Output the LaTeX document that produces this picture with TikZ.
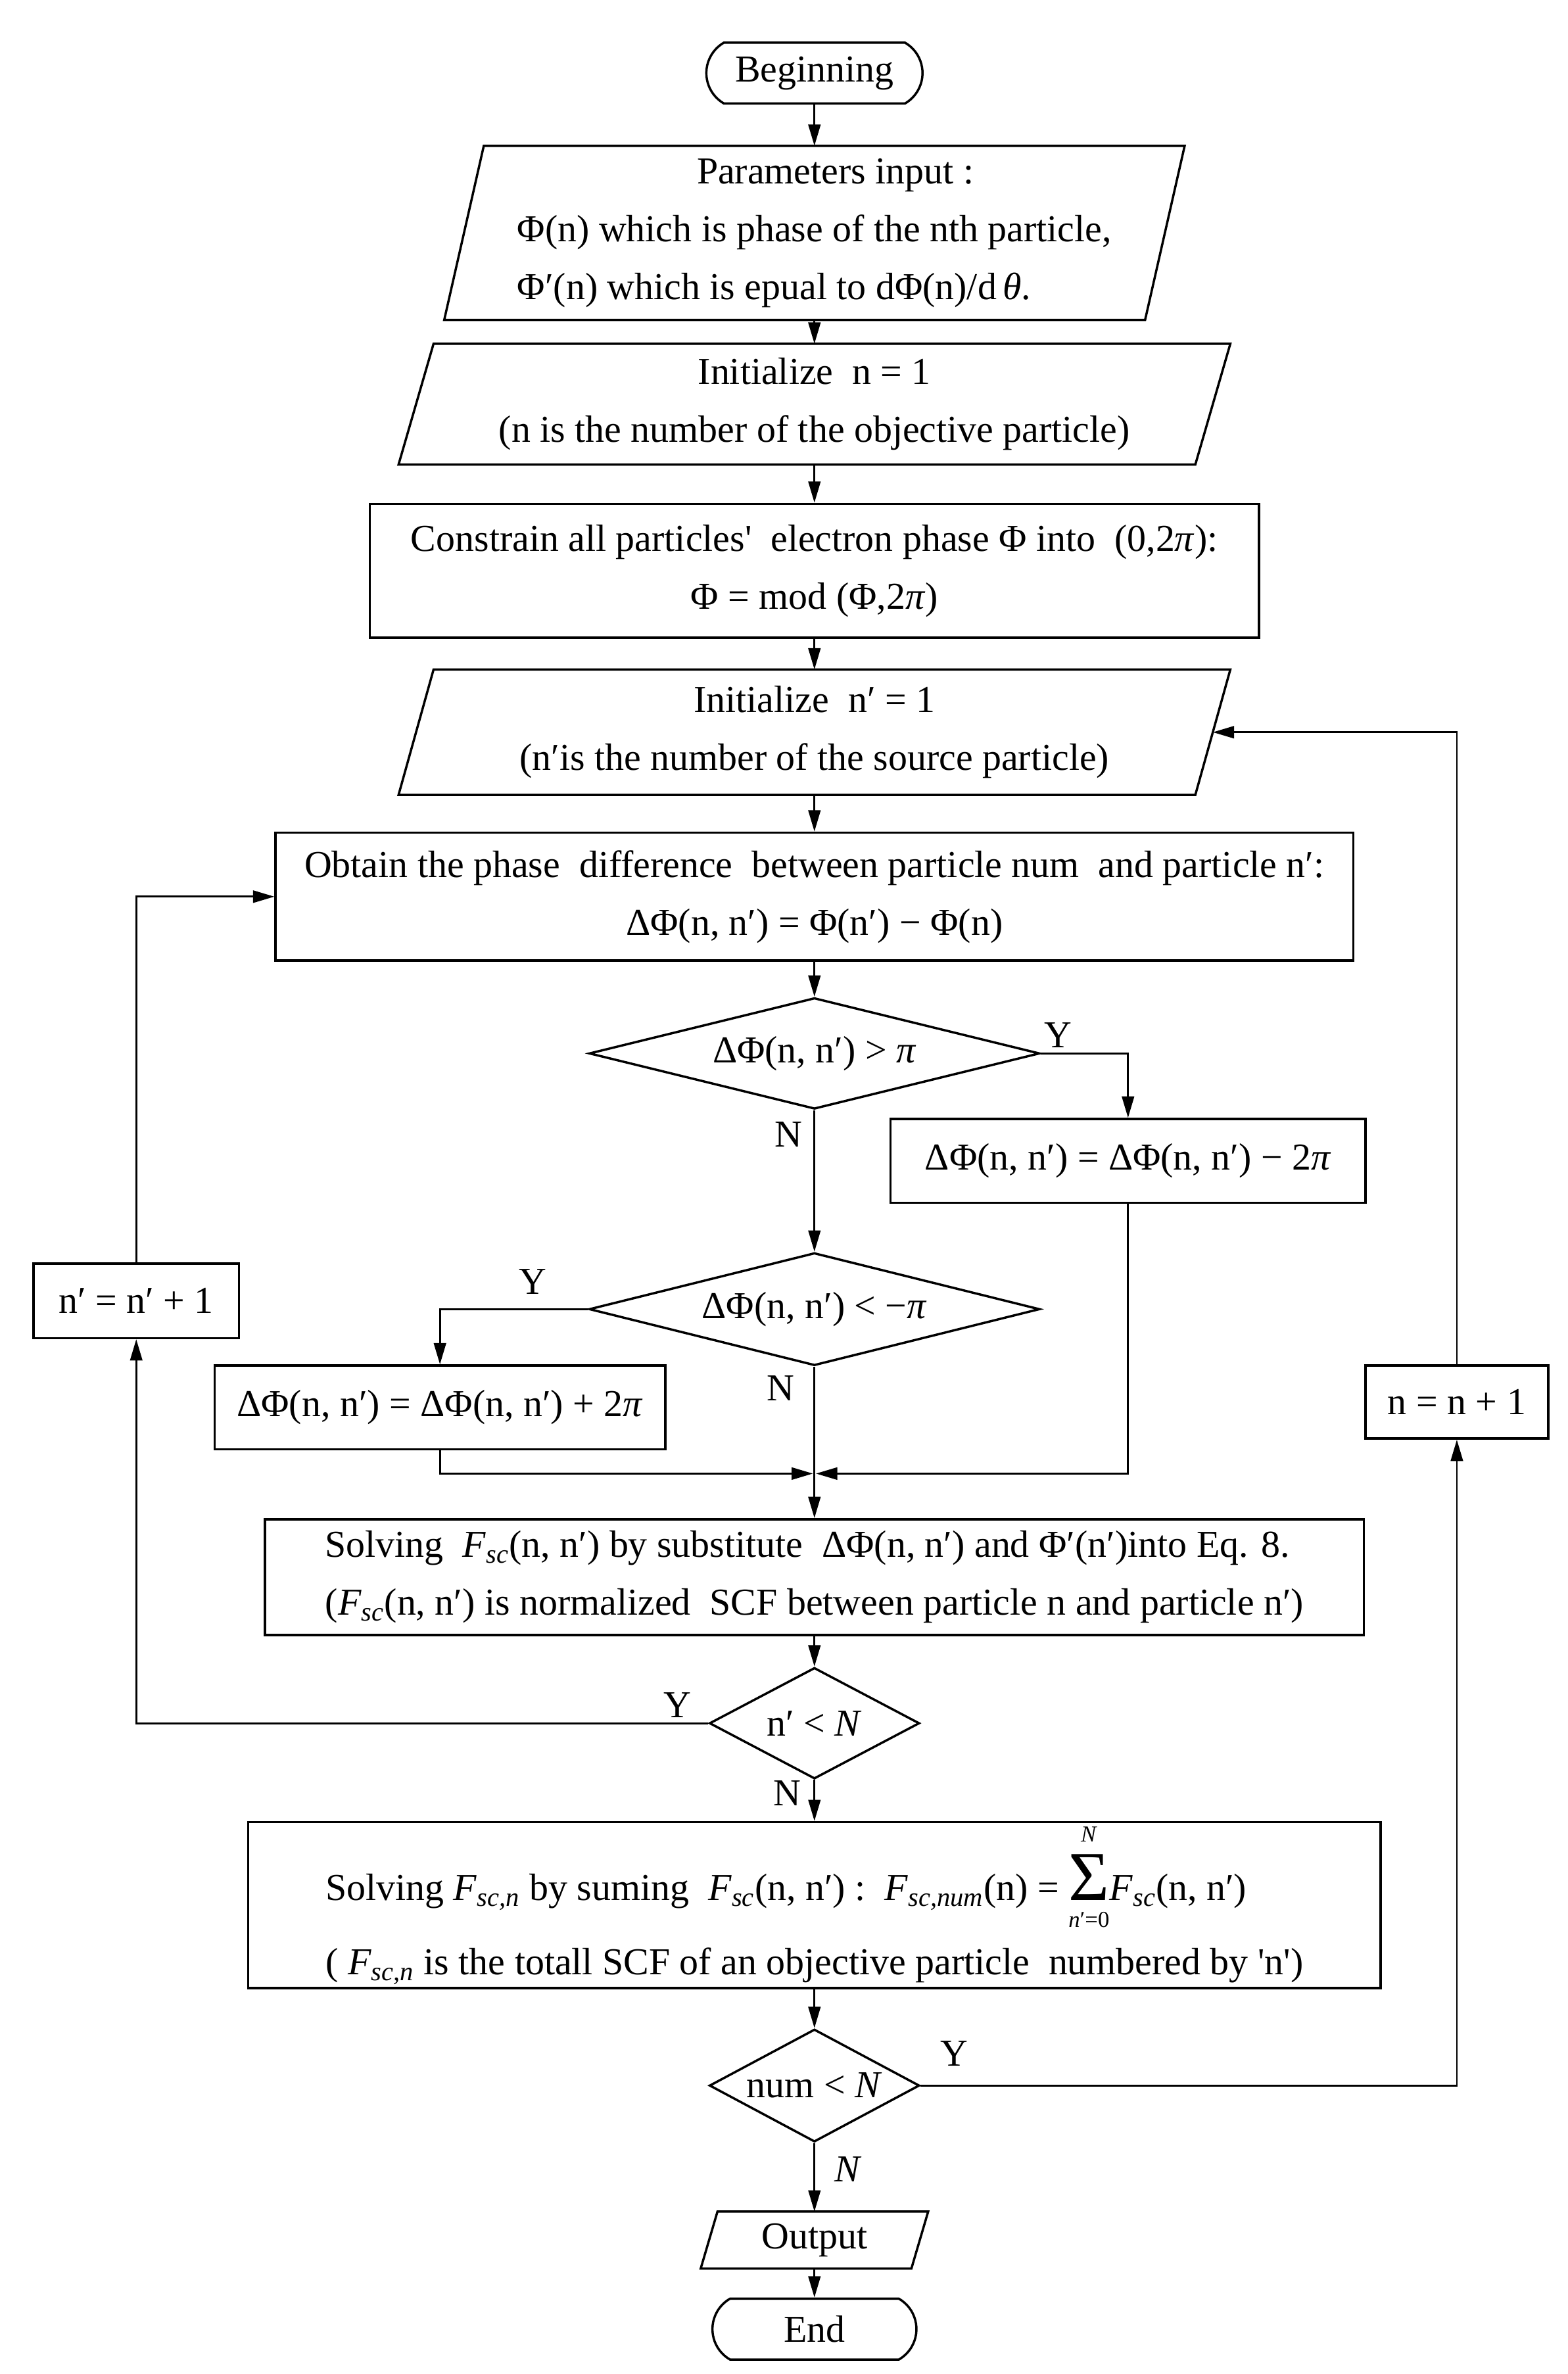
\documentclass[tikz,border=0pt]{standalone}
\usepackage{fontspec}
\setmainfont{Liberation Serif}
\usetikzlibrary{shapes.geometric,shapes.misc,arrows.meta,calc}
\newcommand\bodyfont{\fontsize{25pt}{38pt}\selectfont}
\newcommand\smallfont{\fontsize{15pt}{16pt}\selectfont}
\newcommand\Fsc[1]{\textit{F}\textsubscript{\textit{#1}}}
\newcommand\bigsum{\mathop{\hbox{\fontsize{46pt}{46pt}\selectfont Σ}}\limits_{\hbox{\vrule height 16pt width 0pt\smallfont\textit{n}′=0}}^{\hbox{\smallfont\textit{N}\vrule depth 7pt width 0pt}}}
\newcommand\drawpara[2]{\draw[shapeline] ([xshift=#2pt]#1.north west) -- (#1.north east) -- ([xshift=-#2pt]#1.south east) -- (#1.south west) -- cycle;}
\begin{document}
\begin{tikzpicture}[x=1pt,y=-1pt,
  every node/.style={font=\bodyfont},
  shapeline/.style={draw=black,line width=1.5pt},
  box/.style={rectangle,shapeline,inner sep=0pt,align=center},
  para/.style={rectangle,draw=none,inner sep=0pt,align=center},
  term/.style={rounded rectangle,rounded rectangle arc length=120,shapeline,inner sep=0pt},
  dec/.style={diamond,shapeline,inner sep=0pt},
  lbl/.style={inner sep=0pt},
  conn/.style={draw=black,line width=1.2pt},
  arr/.style={conn,-{Triangle[length=14pt,width=8pt]}}]
\useasboundingbox (0,0) rectangle (1030,1559.5);

% main column
\node[term,minimum width=142pt,minimum height=40pt] (begin) at (535,48) {Beginning};
\node[para,align=left,minimum width=486pt,minimum height=114pt] (params) at (535,153)
  {\hspace*{118pt}Parameters input :\\Φ(n) which is phase of the nth particle,\\Φ′(n) which is epual to dΦ(n)/d\,\textit{θ}.};
\drawpara{params}{26}
\node[para,minimum width=546pt,minimum height=79pt] (init1) at (535,265.5)
  {Initialize~~n = 1\\(n is the number of the objective particle)};
\drawpara{init1}{23}
\node[box,minimum width=584pt,minimum height=88pt] (constrain) at (535,375)
  {Constrain all particles\textquotesingle~~electron phase Φ into~~(0,2\textit{π}):\\Φ = mod (Φ,2\textit{π})};
\node[para,minimum width=546pt,minimum height=82pt] (init2) at (535,481)
  {Initialize~~n′ = 1\\(n′is the number of the source particle)};
\drawpara{init2}{23}
\node[box,minimum width=708pt,minimum height=84pt] (obtain) at (535,589)
  {Obtain the phase~~difference~~between particle num~~and particle n′:\\ΔΦ(n, n′) = Φ(n′) − Φ(n)};
\node[dec,aspect=4,minimum width=296pt,minimum height=73pt] (d1) at (535,692) {ΔΦ(n, n′) > \textit{π}};
\node[box,minimum width=312pt,minimum height=55pt] (b1) at (741,762.5) {ΔΦ(n, n′) = ΔΦ(n, n′) − 2\textit{π}};
\node[dec,aspect=4,minimum width=296pt,minimum height=74pt] (d2) at (535,860) {ΔΦ(n, n′) < −\textit{π}};
\node[box,minimum width=296pt,minimum height=55pt] (b2) at (289,924.5) {ΔΦ(n, n′) = ΔΦ(n, n′) + 2\textit{π}};
\coordinate (merge) at (535,968);
\node[box,align=left,minimum width=722pt,minimum height=76pt] (solving) at (535,1036)
  {Solving~~\Fsc{sc}(n, n′) by substitute~~ΔΦ(n, n′) and Φ′(n′)into Eq. 8.\\(\Fsc{sc}(n, n′) is normalized~~SCF between particle n and particle n′)};
\node[dec,aspect=1.9,minimum width=138pt,minimum height=73pt] (d3) at (535,1132) {n′ < \textit{N}};
\node[box,minimum width=135pt,minimum height=49pt] (nn1) at (89.5,854.5) {n′ = n′ + 1};
\node[box,align=left,minimum width=744pt,minimum height=109pt] (sum) at (535,1251.5)
  {Solving \Fsc{sc,n} by suming~~\Fsc{sc}(n, n′) :~~\Fsc{sc,num}(n) = $\displaystyle\bigsum$\Fsc{sc}(n, n′)\\[11pt]( \Fsc{sc,n} is the totall SCF of an objective particle~~numbered by \textquotesingle n\textquotesingle)};
\node[dec,aspect=1.9,minimum width=138pt,minimum height=74pt] (d4) at (535,1370) {num < \textit{N}};
\node[box,minimum width=120pt,minimum height=48pt] (n1) at (957,921) {n = n + 1};
\node[para,minimum width=149pt,minimum height=37pt] (output) at (535,1471.5) {Output};
\drawpara{output}{11}
\node[term,minimum width=134pt,minimum height=40pt] (end) at (535,1530) {End};

% labels
\node[lbl] (y1) at (695,680) {Y};
\node[lbl] (nl1) at (518,745) {N};
\node[lbl] (y2) at (350,842) {Y};
\node[lbl] (nl2) at (513,912) {N};
\node[lbl] (y3) at (445,1120) {Y};
\node[lbl] (nl3) at (517,1178) {N};
\node[lbl] (y4) at (627,1349) {Y};
\node[lbl] (nl4) at (557,1425) {\textit{N}};

% connectors
\draw[arr] (begin.south) -- (params.north);
\draw[arr] (params.south) -- (init1.north);
\draw[arr] (init1.south) -- (constrain.north);
\draw[arr] (constrain.south) -- (init2.north);
\draw[arr] (init2.south) -- (obtain.north);
\draw[arr] (obtain.south) -- (d1.north);
\draw[arr] (d1.east) -| (b1.north);
\draw[arr] (d1.south) -- (d2.north);
\draw[arr] (d2.west) -| (b2.north);
\draw[arr] (b2.south) |- ([xshift=-1pt]merge);
\draw[arr] (b1.south) |- ([xshift=1pt]merge);
\draw[conn] (d2.south) -- (merge);
\draw[arr] (merge) -- (solving.north);
\draw[arr] (solving.south) -- (d3.north);
\draw[arr] (d3.west) -| (nn1.south);
\draw[arr] (nn1.north) |- (obtain.west);
\draw[arr] (d3.south) -- (sum.north);
\draw[arr] (sum.south) -- (d4.north);
\draw[arr] (d4.east) -| (n1.south);
\coordinate (init2r) at ([xshift=-11.5pt]init2.east);
\draw[arr] (n1.north) |- (init2r);
\draw[arr] (d4.south) -- (output.north);
\draw[arr] (output.south) -- (end.north);
\end{tikzpicture}
\end{document}
